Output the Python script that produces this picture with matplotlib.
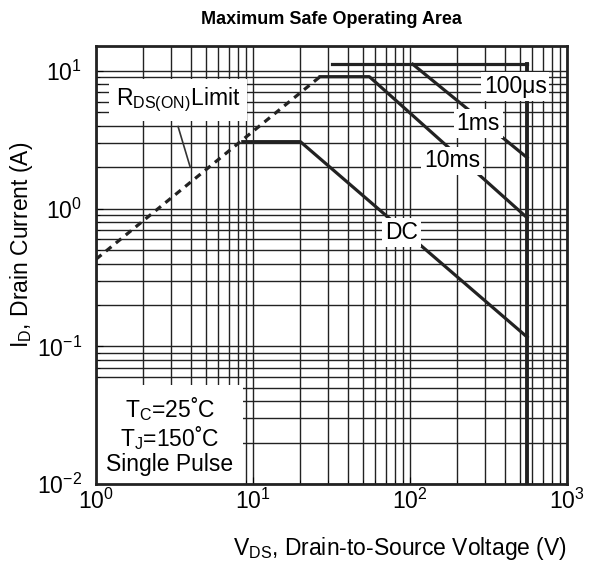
import matplotlib.pyplot as plt
from matplotlib.patches import Rectangle

plt.rcParams['font.family'] = ['Liberation Sans', 'DejaVu Sans']
plt.rcParams['mathtext.fontset'] = 'custom'
plt.rcParams['mathtext.rm'] = 'Liberation Sans'
plt.rcParams['axes.unicode_minus'] = False

# SOA curves (V, A)
rds_v = [1.0, 26.7]
rds_i = [0.43, 9.1]
us100_v = [31.8, 556]
us100_i = [11.2, 11.2]
ms1_v = [104, 556]
ms1_i = [11.2, 2.35]
ms10_v = [26.7, 55, 556]
ms10_i = [9.1, 9.1, 0.86]
dc_v = [8.6, 20, 556]
dc_i = [3.07, 3.07, 0.117]
bv_v = [556, 556]
bv_i = [11.2, 0.01]

fig = plt.figure(figsize=(6.04, 5.61), dpi=100)
ax = fig.add_axes([0.159, 0.137, 0.78, 0.781])
ax.set_xscale('log')
ax.set_yscale('log')
ax.set_xlim(1, 1000)
ax.set_ylim(0.01, 15.2)

ax.grid(True, which='both', color='#222222', lw=1.0)
ax.set_axisbelow(True)

lw = 2.3
ax.plot(rds_v, rds_i, color='#222222', lw=lw, ls=(0, (2.2, 1.8)))
ax.plot(us100_v, us100_i, color='#222222', lw=lw)
ax.plot(ms1_v, ms1_i, color='#222222', lw=lw)
ax.plot(ms10_v, ms10_i, color='#222222', lw=lw)
ax.plot(dc_v, dc_i, color='#222222', lw=lw)
ax.plot(bv_v, bv_i, color='#222222', lw=2.8)

box = dict(facecolor='white', edgecolor='none', pad=2)
fs = 16.5
ax.text(467, 7.7, '100\u03bcs', fontsize=fs, ha='center', va='center', bbox=box)
ax.text(271, 4.15, '1ms', fontsize=fs, ha='center', va='center', bbox=box)
ax.text(185, 2.23, '10ms', fontsize=fs, ha='center', va='center', bbox=box)
ax.text(88, 0.67, 'DC', fontsize=fs, ha='center', va='center', bbox=box)
ax.text(3.33, 6.2, r'R$_\mathregular{DS(ON)}$Limit', fontsize=fs,
        ha='center', va='center', bbox=dict(facecolor='white', edgecolor='none', pad=5))
ax.plot([3.33, 3.97], [3.95, 2.02], color='#333333', lw=1.2)

# white panel behind the test conditions
ax.add_patch(Rectangle((0, 0), 0.312, 0.226, transform=ax.transAxes,
                       facecolor='white', edgecolor='none', zorder=1.5))
ax.text(2.96, 0.0227, 'T$_\\mathregular{C}$=25\u02daC\nT$_\\mathregular{J}$=150\u02daC\nSingle Pulse',
        fontsize=fs, ha='center', va='center', linespacing=1.05)

ax.set_title('Maximum Safe Operating Area', fontsize=13, fontweight='bold', pad=16)
ax.set_xlabel(r'V$_\mathregular{DS}$, Drain-to-Source Voltage (V)', fontsize=fs)
ax.set_ylabel(r'I$_\mathregular{D}$, Drain Current (A)', fontsize=fs)
ax.xaxis.set_label_coords(0.646, -0.116)
ax.yaxis.set_label_coords(-0.13, 0.545)
ax.tick_params(which='both', direction='in', labelsize=fs)
ax.tick_params(axis='y', pad=10)
ax.tick_params(which='major', length=5)
ax.tick_params(which='minor', length=3)
for s in ax.spines.values():
    s.set_linewidth(2)
    s.set_color('#222222')

plt.savefig('out.png', dpi=100)
